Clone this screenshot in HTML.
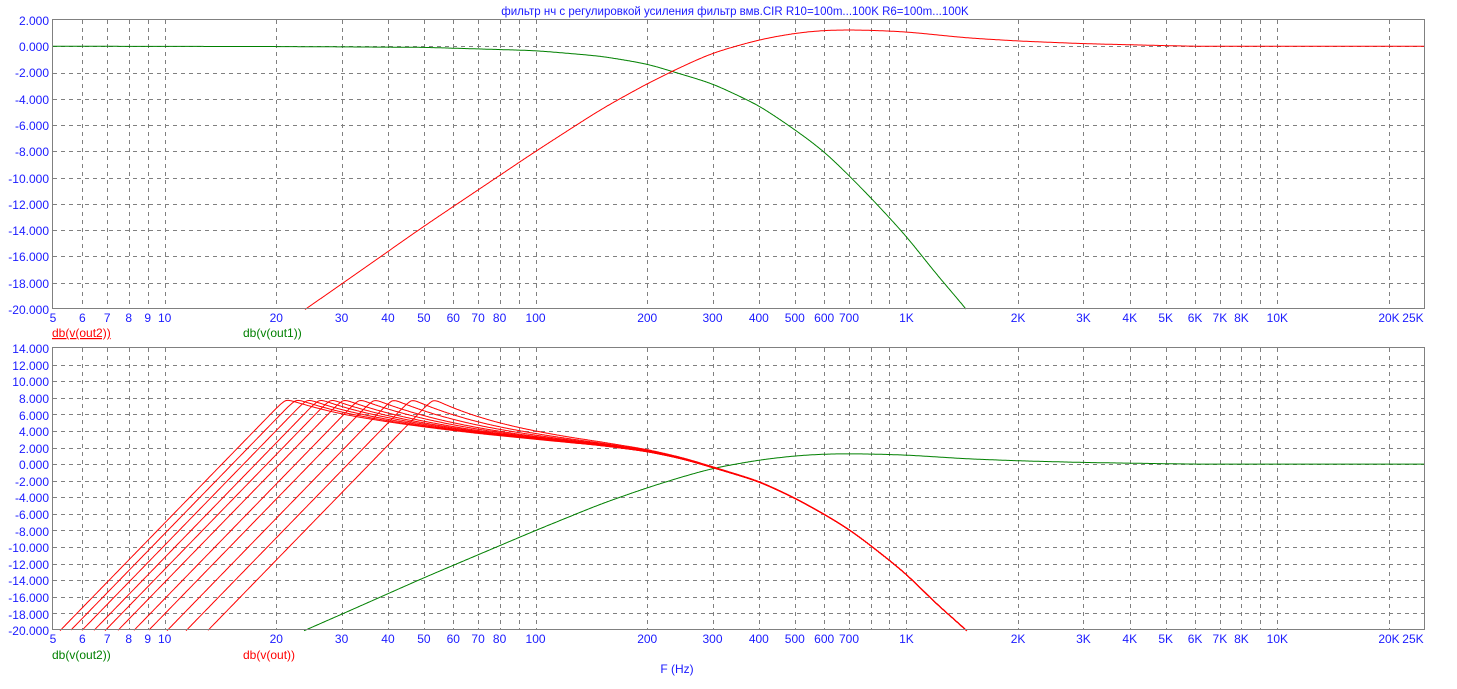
<!DOCTYPE html>
<html><head><meta charset="utf-8">
<style>
html,body{margin:0;padding:0;background:#fff;}
svg{display:block;font-family:"Liberation Sans",Arial,sans-serif;}
.yl{fill:#1a1aff;font-size:12px;text-anchor:end;}
.xl{fill:#1a1aff;font-size:12px;text-anchor:middle;}
</style></head><body>
<div style="position:relative;width:1457px;height:689px;">
<svg id="s" width="1457" height="689" viewBox="0 0 1457 689" xmlns="http://www.w3.org/2000/svg" style="position:absolute;left:0;top:0">
<rect width="1457" height="689" fill="#fff"/>
<g id="grid"></g>
<g id="curves"></g>
<rect x="52.5" y="19.5" width="1372" height="289" fill="none" stroke="#808080" stroke-width="1"/>
<rect x="52.5" y="347.5" width="1372" height="282" fill="none" stroke="#808080" stroke-width="1"/>
<text x="735" y="15" fill="#1a1aff" font-size="11.5" text-anchor="middle">фильтр нч с регулировкой усиления  фильтр вмв.CIR R10=100m...100K R6=100m...100K</text>
<g class="yl">
<text x="49" y="25">2.000</text><text x="49" y="51">0.000</text><text x="49" y="77">-2.000</text><text x="49" y="104">-4.000</text><text x="49" y="130">-6.000</text><text x="49" y="156">-8.000</text><text x="49" y="183">-10.000</text><text x="49" y="209">-12.000</text><text x="49" y="235">-14.000</text><text x="49" y="261">-16.000</text><text x="49" y="288">-18.000</text><text x="49" y="314">-20.000</text>
</g>
<g class="yl">
<text x="49" y="353">14.000</text><text x="49" y="370">12.000</text><text x="49" y="386">10.000</text><text x="49" y="403">8.000</text><text x="49" y="420">6.000</text><text x="49" y="436">4.000</text><text x="49" y="453">2.000</text><text x="49" y="469">0.000</text><text x="49" y="486">-2.000</text><text x="49" y="502">-4.000</text><text x="49" y="519">-6.000</text><text x="49" y="536">-8.000</text><text x="49" y="552">-10.000</text><text x="49" y="569">-12.000</text><text x="49" y="585">-14.000</text><text x="49" y="602">-16.000</text><text x="49" y="619">-18.000</text><text x="49" y="635">-20.000</text>
</g>
<g class="xl" id="xt"></g>
<g class="xl" id="xb"></g>
<text x="52" y="337" fill="#ff0000" font-size="12" text-decoration="underline">db(v(out2))</text>
<text x="243" y="337" fill="#008000" font-size="12">db(v(out1))</text>
<text x="52" y="659" fill="#008000" font-size="12">db(v(out2))</text>
<text x="243" y="659" fill="#ff0000" font-size="12">db(v(out))</text>
<text x="677" y="673" fill="#1a1aff" font-size="12" text-anchor="middle">F (Hz)</text>
</svg>
</div>
<script>
(function(){
var NS="http://www.w3.org/2000/svg";
function X(f){return 53+370.9*Math.log10(f/5);}
function yT(d){return 20+(2-d)*289/22;}
function yB(d){return 348+(14-d)*282/34;}
function el(p,tag,a,t){var e=document.createElementNS(NS,tag);for(var k in a)e.setAttribute(k,a[k]);if(t!==undefined)e.textContent=t;p.appendChild(e);return e;}
var grid=document.getElementById('grid');
var fr=[6,7,8,9,10,20,30,40,50,60,70,80,90,100,200,300,400,500,600,700,800,900,1000,2000,3000,4000,5000,6000,7000,8000,9000,10000,20000];
var st={stroke:"#808080","stroke-width":1,"stroke-dasharray":"4,4"};
fr.forEach(function(f){var x=Math.round(X(f))+0.5;
 el(grid,'line',Object.assign({x1:x,x2:x,y1:20,y2:309},st));
 el(grid,'line',Object.assign({x1:x,x2:x,y1:348,y2:630},st));});
for(var d=0;d>-20;d-=2){var y=Math.round(yT(d))+0.5;el(grid,'line',Object.assign({x1:53,x2:1425,y1:y,y2:y},st));}
for(var d=12;d>-20;d-=2){var y=Math.round(yB(d))+0.5;el(grid,'line',Object.assign({x1:53,x2:1425,y1:y,y2:y},st));}
var xl=[[5,"5"],[6,"6"],[7,"7"],[8,"8"],[9,"9"],[10,"10"],[20,"20"],[30,"30"],[40,"40"],[50,"50"],[60,"60"],[70,"70"],[80,"80"],[100,"100"],[200,"200"],[300,"300"],[400,"400"],[500,"500"],[600,"600"],[700,"700"],[1000,"1K"],[2000,"2K"],[3000,"3K"],[4000,"4K"],[5000,"5K"],[6000,"6K"],[7000,"7K"],[8000,"8K"],[10000,"10K"],[20000,"20K"],[25000,"25K"]];
var xt=document.getElementById('xt'),xb=document.getElementById('xb');
xl.forEach(function(a){var x=X(a[0]);if(a[0]==25000)x-=12;
 el(xt,'text',{x:x,y:322},a[1]);el(xb,'text',{x:x,y:643},a[1]);});
function interp(P){var U=P.map(function(p){return Math.log10(p[0]);}),V=P.map(function(p){return p[1];});var n=P.length;
 return function(f){var u=Math.log10(f);
  if(u<=U[0]){return V[0]+(u-U[0])*(V[1]-V[0])/(U[1]-U[0]);}
  if(u>=U[n-1]){return V[n-1]+(u-U[n-1])*(V[n-1]-V[n-2])/(U[n-1]-U[n-2]);}
  var i=0;while(U[i+1]<u)i++;
  var t=(u-U[i])/(U[i+1]-U[i]);return V[i]+t*(V[i+1]-V[i]);};}
function smooth(fn,sig){var w=[],sum=0;for(var k=-3*sig;k<=3*sig;k++){var v=Math.exp(-0.5*k*k/(sig*sig));w.push([k,v]);sum+=v;}
 return function(f){var s=0;for(var i=0;i<w.length;i++){s+=w[i][1]*fn(f*Math.pow(10,w[i][0]/370.9));}return s/sum;};}
var G=smooth(interp([[5,0],[20,-0.02],[50,-0.08],[100,-0.33],[150,-0.75],[200,-1.34],[300,-2.84],[400,-4.5],[500,-6.34],[600,-8.0],[700,-9.84],[800,-11.5],[1000,-14.46],[1200,-17.3],[1450,-20],[1700,-22.5]]),10);
var R=smooth(interp([[15,-24],[24,-20],[30,-18.1],[50,-13.7],[100,-8],[150,-4.8],[200,-2.84],[250,-1.5],[300,-0.5],[400,0.5],[500,1.0],[600,1.22],[700,1.25],[800,1.22],[1000,1.1],[1450,0.64],[2000,0.4],[3000,0.2],[5000,0.05],[6000,0.0],[10000,0],[25000,0]]),12);
var T=smooth(interp([[5,7.8],[10,7.2],[20,5.9],[30,5.0],[45,4.3],[70,3.5],[100,2.9],[150,2.2],[200,1.5],[250,0.6],[300,-0.43],[400,-2.1],[500,-4.1],[600,-6.05],[700,-7.86],[800,-9.8],[1000,-13.25],[1200,-16.8],[1450,-20],[1700,-23]]),10);
var curves=document.getElementById('curves');
function path(fn,yf,color){var s="",first=true;var lo=(yf===yT)?309:630;
 for(var x=53;x<=1425;x+=1){var f=5*Math.pow(10,(x-53)/370.9);var d=fn(f);var y=yf(d);
  if(y>lo+1){first=true;continue;}
  s+=(first?"M":"L")+x+","+y.toFixed(1)+" ";first=false;}
 el(curves,'path',{d:s,fill:"none",stroke:color,"stroke-width":1});}
path(G,yT,"#008000");
path(R,yT,"#ff0000");
path(R,yB,"#008000");
var x20=[60.7,71,82.3,94.3,105.7,118.3,134.3,149,167.7,186.7,208.3];
x20.forEach(function(xc){
 var u0=Math.log10(5)+(xc-53)/370.9;var slope=46;var up=u0+27.8/slope;var Tup=T(Math.pow(10,up));
 path(function(f){var u=Math.log10(f);var r=-20+slope*(u-u0);
  var c=u<up?7.9:T(f)+(7.9-Tup)*Math.exp(-(u-up)/0.22);
  var k=0.35;var m=Math.min(r,c);return m-k*Math.log(Math.exp((m-r)/k)+Math.exp((m-c)/k));},yB,"#ff0000");});
})();
</script>
</body></html>
